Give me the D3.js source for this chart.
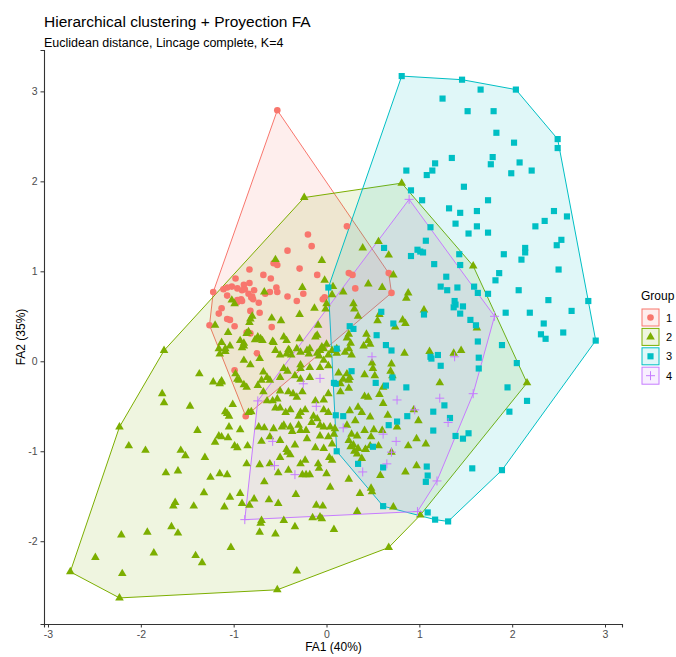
<!DOCTYPE html>
<html>
<head>
<meta charset="utf-8">
<script src="https://cdn.jsdelivr.net/npm/d3@7"></script>
<style>
  body { margin: 0; background: #fff; }
  svg { display: block; font-family: "Liberation Sans", Arial, sans-serif; }
</style>
</head>
<body>
<svg id="chart" width="676" height="657"></svg>
<script>
// cluster labels
const groupNames = ["1", "2", "3", "4"];

// factor scores (FA1, FA2) per cluster
const group1 = [
  [-0.53,2.79],[-1.22,0.77],[-1.26,0.40],[-0.87,-0.61],[0.67,0.98],[0.70,0.76],
  [-0.20,1.41],[-0.16,1.28],[-0.42,1.23],[-0.29,1.03],[-0.10,0.96],[-0.57,1.09],[-0.53,1.07],
  [-0.83,1.02],[-0.68,0.96],[-0.60,0.92],[-0.98,0.92],[-1.11,0.80],[-1.02,0.83],[-0.96,0.81],
  [-0.89,0.85],[-0.83,0.87],[-0.91,0.79],[-0.88,0.80],[-0.84,0.75],[-0.81,0.71],[-0.78,0.79],
  [-0.54,0.82],[-0.53,0.77],[-0.61,0.77],[-0.66,0.75],[-0.42,0.72],[-0.32,0.67],[-0.25,0.75],
  [-0.04,0.69],[-0.02,0.71],[-0.96,0.68],[-0.92,0.69],[-1.07,0.73],[-1.13,0.59],[-1.16,0.53],
  [-0.82,0.56],[-0.73,0.65],[-0.72,0.54],[-1.07,0.47],[-1.04,0.46],[-0.99,0.39],[-0.59,0.38],
  [-0.86,0.32],[-0.82,0.31],[-0.75,0.09],[-0.99,-0.10],[0.24,0.98],[0.28,0.96],[0.31,0.81],
  [0.22,1.50],[-1.07,0.82],[-0.79,0.69],[-0.80,0.72],[-0.96,0.66],[-0.91,0.67]
];

const group2 = [
  [-1.75,0.12],[-2.23,-0.73],[-2.76,-2.34],[-2.23,-2.63],[-0.53,-2.54],[0.67,-2.07],[1.01,-1.71],
  [2.16,-0.24],[1.58,1.06],[0.81,1.98],[-0.24,1.82],
  // y > 0.5
  [-0.55,1.13],[-0.05,1.12],[0.39,1.26],[0.56,1.33],[0.67,1.18],[0.72,0.96],[-0.02,0.90],
  [0.07,0.83],[0.06,0.74],[0.18,0.77],[0.45,0.86],[0.60,0.82],[0.88,0.76],[0.86,0.70],
  [-0.26,0.82],[-0.67,0.77],[-1.02,0.68],[-0.99,0.64],[0.29,0.64],[0.30,0.58],[0.00,0.64],
  [-0.01,0.58],[-0.13,0.59],[1.05,0.57],
  // 0 .. 0.5
  [0.34,0.50],[-0.29,0.52],[-0.82,0.47],[-0.80,0.50],[-0.83,0.43],[-0.59,0.48],[-0.49,0.45],
  [0.57,0.52],[0.55,0.45],[0.82,0.46],[0.85,0.42],[0.74,0.38],[1.62,0.37],[-1.20,0.40],
  [-0.09,0.40],[-1.06,0.32],[-0.84,0.33],[-0.86,0.31],[-0.74,0.27],[-0.71,0.25],[-0.46,0.27],
  [-0.29,0.25],[-0.10,0.29],[-0.12,0.27],[0.24,0.30],[0.26,0.20],[0.22,0.26],[0.43,0.30],
  [0.47,0.19],[0.40,0.17],[0.45,0.23],[-1.13,0.21],[-1.04,0.17],[-1.09,0.14],[-0.93,0.23],
  [-0.89,0.17],[-0.91,0.15],[-0.77,0.24],[-0.69,0.23],[-0.58,0.22],[-0.43,0.23],[-0.57,0.21],
  [-1.15,0.08],[-1.16,0.14],[-1.09,0.11],[-0.89,0.20],[-0.55,0.12],[-0.41,0.13],[-0.43,0.08],
  [-0.40,0.12],[-0.38,0.07],[-0.50,0.07],[-0.32,0.14],[-0.28,0.10],[-0.21,0.12],[-0.18,0.14],
  [-0.19,0.08],[-0.10,0.09],[-0.07,0.12],[-0.03,0.14],[-0.05,0.16],[-0.08,0.06],[0.00,0.19],
  [0.02,0.07],[0.06,0.12],[0.11,0.14],[0.11,0.09],[0.20,0.10],[0.27,0.07],[0.24,0.14],
  [0.84,0.09],[1.11,0.11],[1.37,0.09],[1.45,0.12],
  // -0.5 .. 0
  [-0.72,0.03],[-0.82,-0.04],[-0.89,0.01],[-0.96,-0.20],[-0.98,-0.14],[-1.22,-0.23],[-1.13,-0.23],
  [-1.37,-0.14],[-1.15,-0.25],[-1.13,-0.22],[-0.68,-0.12],[-0.64,-0.18],[-0.61,-0.21],[-0.70,-0.21],
  [-0.50,-0.18],[-0.46,-0.08],[-0.42,-0.11],[-0.28,-0.08],[-0.28,-0.04],[-0.18,-0.07],[-0.34,-0.16],
  [-0.28,-0.20],[-0.18,-0.18],[-0.07,-0.07],[-0.03,0.01],[0.02,-0.05],[0.49,-0.02],[0.70,-0.03],
  [0.69,-0.11],[0.41,-0.15],[0.52,-0.16],[0.71,-0.16],[0.50,-0.08],[0.22,-0.14],[0.25,-0.18],
  [0.18,-0.20],[0.13,-0.13],[0.24,-0.21],[0.15,-0.25],[1.22,-0.24],[-0.94,-0.21],[-0.86,-0.29],
  [-0.89,-0.26],[-0.74,-0.27],[-1.77,-0.36],[-1.75,-0.46],[-1.47,-0.50],[-1.01,-0.48],[-0.68,-0.34],
  [-0.64,-0.44],[-0.58,-0.44],[-0.53,-0.42],[-0.50,-0.33],[-0.41,-0.34],[-0.36,-0.36],[-0.32,-0.40],
  [-0.26,-0.34],[0.24,-0.30],[0.15,-0.34],[0.45,-0.40],[0.57,-0.37],[0.61,-0.29],[0.61,-0.47],
  [0.41,-0.39],[-0.03,-0.43],[0.02,-0.36],[-0.12,-0.44],
  // -1 .. -0.5
  [-1.09,-0.56],[-1.07,-0.58],[-1.05,-0.61],[-0.84,-0.57],[-0.81,-0.56],[-0.55,-0.52],[-0.50,-0.52],
  [-0.44,-0.57],[-0.39,-0.54],[-0.28,-0.57],[-0.23,-0.54],[-0.30,-0.61],[-0.16,-0.68],[-0.14,-0.61],
  [-0.10,-0.64],[-0.03,-0.54],[0.02,-0.57],[-0.07,-0.71],[-0.03,-0.73],[0.04,-0.73],[0.09,-0.75],
  [-0.73,-0.73],[-0.67,-0.74],[-0.57,-0.75],[-0.48,-0.73],[-0.46,-0.71],[-0.39,-0.73],[-0.37,-0.78],
  [-0.30,-0.71],[-0.28,-0.77],[-0.22,-0.77],[-0.21,-0.86],[-0.07,-0.83],[0.02,-0.84],[0.08,-0.81],
  [0.06,-0.92],[-0.61,-0.84],[-0.50,-0.88],[-0.70,-0.89],[-0.34,-0.93],[-0.43,-0.98],[-0.12,-0.96],
  [-0.03,-0.97],[-1.39,-0.77],[-1.05,-0.73],[-0.93,-0.76],[-1.16,-0.83],[-1.13,-0.84],[-1.06,-0.85],
  [-1.20,-0.90],[-0.99,-0.94],[-0.96,-0.96],[-0.85,-0.94],[-2.13,-0.94],[-1.95,-0.99],[-1.57,-0.99],
  [0.34,-0.51],[0.38,-0.57],[0.25,-0.55],[0.47,-0.62],[0.66,-0.60],[0.76,-0.73],[0.99,-0.66],
  [0.94,-0.54],[0.31,-0.66],[0.41,-0.77],[0.51,-0.76],[0.60,-0.77],[0.22,-0.71],[0.27,-0.81],
  [0.33,-0.83],[0.48,-0.84],[0.56,-0.94],[0.24,-0.88],[0.26,-0.95],[0.29,-0.93],[0.88,-0.94],
  [0.97,-0.86],[1.07,-0.92],[0.42,-0.98],[0.47,-0.94],
  // below -1
  [-0.42,-1.01],[-0.39,-1.04],[-0.50,-1.07],[-0.72,-1.15],[-0.61,-1.14],[-0.41,-1.21],[-0.52,-1.24],
  [-0.28,-1.14],[-0.23,-1.10],[-0.26,-1.26],[-0.22,-1.26],[-0.18,-1.26],[-0.09,-1.14],[-0.08,-1.19],
  [0.00,-1.25],[0.03,-1.07],[0.06,-1.10],[0.04,-1.40],[-1.52,-1.05],[-1.31,-1.07],[-0.86,-1.14],
  [-1.73,-1.24],[-1.60,-1.22],[-1.25,-1.29],[-1.15,-1.25],[-1.07,-1.26],[-0.67,-1.34],[-1.32,-1.46],
  [-0.93,-1.47],[-1.04,-1.51],[-0.78,-1.53],[-0.62,-1.54],[-0.52,-1.58],[-0.83,-1.60],[-0.91,-1.58],
  [-0.33,-1.48],[-1.63,-1.57],[-1.65,-1.61],[-1.43,-1.61],[-1.10,-1.62],[-0.11,-1.60],[-0.04,-1.61],
  [-0.15,-1.74],[-0.07,-1.73],[-0.05,-1.75],[-0.72,-1.90],[-0.71,-1.80],[-0.70,-1.77],[-0.55,-1.92],
  [-0.46,-1.77],[-0.34,-1.84],[-2.21,-1.93],[-1.93,-1.90],[-1.67,-1.84],[-1.60,-1.91],[-1.03,-2.07],
  [-2.49,-2.18],[-1.86,-2.13],[-1.41,-2.16],[-1.34,-2.24],[-2.20,-2.36],[-0.32,-2.33],[0.33,-1.03],
  [0.30,-1.00],[0.38,-1.08],[0.70,-1.01],[0.97,-1.16],[0.85,-1.23],[0.58,-1.27],[0.24,-1.31],
  [0.49,-1.45],[0.36,-1.47],[0.48,-1.41],[0.72,-1.62],[0.33,-1.67],[0.08,-1.87],[0.34,-0.97],[0.42,-0.98]
];

const group3 = [
  [0.81,3.17],[1.46,3.13],[1.66,3.02],[2.04,3.02],[1.25,2.92],[1.52,2.78],[1.80,2.78],[1.83,2.54],
  [2.02,2.43],[2.49,2.47],[2.49,2.37],[1.35,2.26],[1.79,2.27],[1.77,2.19],[2.08,2.21],[1.17,2.20],
  [1.14,2.12],[1.08,2.07],[0.86,2.12],[1.99,2.09],[2.21,2.12],[1.48,1.94],[0.91,1.90],[1.03,1.79],
  [1.74,1.79],[1.32,1.70],[1.44,1.65],[1.62,1.67],[1.39,1.53],[1.62,1.50],[1.53,1.42],[1.74,1.43],
  [1.12,1.49],[2.45,1.67],[2.59,1.61],[2.35,1.56],[2.25,1.50],[1.07,1.34],[0.62,1.26],[0.98,1.24],
  [1.04,1.21],[1.01,1.22],[0.91,1.17],[2.53,1.35],[2.48,1.29],[2.14,1.26],[2.14,1.21],[1.91,1.19],
  [2.10,1.13],[1.43,1.19],[1.44,1.07],[1.16,1.08],[1.86,0.98],[1.82,0.90],[2.50,1.02],[1.29,0.94],
  [1.23,0.83],[1.30,0.79],[1.41,0.82],[1.59,0.83],[1.63,0.76],[1.74,0.75],[2.07,0.79],[2.39,0.68],
  [2.82,0.67],[2.90,0.23],[1.38,0.67],[1.39,0.63],[1.37,0.60],[1.47,0.61],[1.44,0.53],[1.55,0.46],
  [1.61,0.40],[1.93,0.54],[2.19,0.54],[2.64,0.56],[2.34,0.42],[2.55,0.32],[2.31,0.30],[2.36,0.25],
  [1.63,0.22],[1.89,0.18],[0.59,0.55],[0.72,0.42],[1.05,0.52],[0.54,0.29],[0.64,0.18],[0.70,0.12],
  [0.25,0.39],[0.29,0.36],[0.02,0.82],[0.11,0.14],[1.20,0.07],[1.12,0.05],[1.13,0.03],[1.64,0.04],
  [1.64,-0.08],[1.23,-0.05],[2.05,-0.02],[0.27,-0.11],[0.71,-0.18],[0.53,-0.24],[0.64,-0.27],
  [0.86,-0.29],[1.95,-0.29],[2.16,-0.44],[1.97,-0.56],[1.27,-0.49],[1.15,-0.56],[1.33,-0.63],
  [0.87,-0.61],[0.18,-0.61],[0.10,-0.60],[0.76,-0.67],[0.67,-0.71],[1.15,-0.77],[1.39,-0.83],
  [1.47,-0.86],[1.53,-0.80],[0.50,-0.95],[0.11,-1.00],[0.34,-1.14],[0.61,-1.18],[1.08,-1.17],
  [1.09,-1.27],[1.07,-1.34],[1.57,-1.19],[1.89,-1.21],[0.61,-1.61],[1.09,-1.68],[1.17,-1.76],
  [1.31,-1.78],[0.08,-0.24],[0.10,-0.25]
];

const group4 = [
  [0.89,1.80],[1.81,0.50],[0.49,0.05],[1.38,0.05],[0.76,-0.43],[0.95,-0.54],[1.22,-0.41],
  [1.31,-0.68],[1.58,-0.36],[0.75,-0.89],[0.61,-0.81],[0.70,-1.01],[0.39,-1.23],[0.65,-1.14],
  [1.19,-1.33],[0.98,-1.67],[0.18,-0.74],[-0.74,-0.44],[-0.25,-0.25],[-0.07,-0.19],[-0.11,-0.50],
  [-0.58,-0.89],[-0.56,-1.16],[-0.34,-1.26],[-0.88,-1.76]
];

const xTicks = [-3, -2, -1, 0, 1, 2, 3];
const yTicks = [-2, -1, 0, 1, 2, 3];

const groupData = [group1, group2, group3, group4];
const colors = ["#F8766D", "#7CAE00", "#00BFC4", "#C77CFF"];

const svg = d3.select("#chart");
const margin = { top: 50, right: 54, bottom: 33, left: 44 };
const width = 676 - margin.left - margin.right;   // up to x = 622
const height = 657 - margin.top - margin.bottom;  // down to y = 624

// ggplot style 5% expansion
const all = groupData.flat();
const xExt = d3.extent(all, d => d[0]);
const yExt = d3.extent(all, d => d[1]);
const xPad = (xExt[1] - xExt[0]) * 0.05;
const yPad = (yExt[1] - yExt[0]) * 0.05;

const x = d3.scaleLinear()
  .domain([xExt[0] - xPad, xExt[1] + xPad])
  .range([margin.left, margin.left + width]);
const y = d3.scaleLinear()
  .domain([yExt[0] - yPad, yExt[1] + yPad])
  .range([margin.top + height, margin.top]);

// titles
svg.append("text")
  .attr("x", 44).attr("y", 27)
  .attr("font-size", 15.5).attr("fill", "#000")
  .text("Hierarchical clustering + Proyection FA");
svg.append("text")
  .attr("x", 44).attr("y", 47)
  .attr("font-size", 12.5).attr("fill", "#000")
  .text("Euclidean distance, Lincage complete, K=4");

// hulls first
const hulls = svg.append("g");
groupData.forEach((pts, i) => {
  const hull = d3.polygonHull(pts.map(d => [x(d[0]), y(d[1])]));
  hulls.append("path")
    .attr("d", "M" + hull.join("L") + "Z")
    .attr("fill", colors[i])
    .attr("fill-opacity", 0.12)
    .attr("stroke", colors[i])
    .attr("stroke-width", 1);
});

// point shapes like ggplot 16, 17, 15, 3
function drawMark(sel, i) {
  if (i === 0) {
    sel.append("circle").attr("r", 3.3).attr("fill", colors[i]);
  } else if (i === 1) {
    sel.append("path").attr("d", d3.symbol(d3.symbolTriangle, 32)()).attr("fill", colors[i]);
  } else if (i === 2) {
    sel.append("path").attr("d", d3.symbol(d3.symbolSquare, 38)()).attr("fill", colors[i]);
  } else {
    sel.append("path").attr("d", "M-4.5,0H4.5M0,-4.5V4.5")
      .attr("stroke", colors[i]).attr("stroke-width", 1).attr("fill", "none");
  }
}

const pointsG = svg.append("g");
groupData.forEach((pts, i) => {
  pointsG.append("g").selectAll("g")
    .data(pts)
    .enter().append("g")
    .attr("transform", d => "translate(" + x(d[0]) + "," + y(d[1]) + ")")
    .each(function () { drawMark(d3.select(this), i); });
});

// axes
const xAxis = svg.append("g")
  .attr("transform", "translate(0," + (margin.top + height) + ")")
  .call(d3.axisBottom(x).tickValues(xTicks).tickSize(3.5).tickPadding(3).tickFormat(d3.format("d")));
const yAxis = svg.append("g")
  .attr("transform", "translate(" + margin.left + ",0)")
  .call(d3.axisLeft(y).tickValues(yTicks).tickSize(3.5).tickPadding(3).tickFormat(d3.format("d")));
[xAxis, yAxis].forEach(a => {
  a.select(".domain").attr("stroke", "#333").attr("stroke-width", 1.1);
  a.selectAll(".tick line").attr("stroke", "#333");
  a.selectAll(".tick text").attr("fill", "#4D4D4D").attr("font-size", 10.5)
    .attr("font-family", "Liberation Sans, Arial, sans-serif")
    .text(d => d < 0 ? "-" + Math.abs(d) : d);
});

svg.append("text")
  .attr("x", x(0) + 7).attr("y", 651)
  .attr("text-anchor", "middle").attr("font-size", 12)
  .text("FA1 (40%)");
svg.append("text")
  .attr("transform", "translate(25," + (margin.top + height / 2) + ") rotate(-90)")
  .attr("text-anchor", "middle").attr("font-size", 12)
  .text("FA2 (35%)");

// legend
const legend = svg.append("g").attr("transform", "translate(641,0)");
legend.append("text").attr("x", 0).attr("y", 300).attr("font-size", 12).text("Group");
groupNames.forEach((name, i) => {
  const key = legend.append("g").attr("transform", "translate(1," + (309 + i * 19.4) + ")");
  key.append("rect").attr("width", 17).attr("height", 17)
    .attr("fill", colors[i]).attr("fill-opacity", 0.12)
    .attr("stroke", colors[i]).attr("stroke-width", 1);
  const m = key.append("g").attr("transform", "translate(8.5,8.5)");
  drawMark(m, i);
  key.append("text").attr("x", 24).attr("y", 12.5).attr("font-size", 11).text(name);
});
</script>
</body>
</html>
